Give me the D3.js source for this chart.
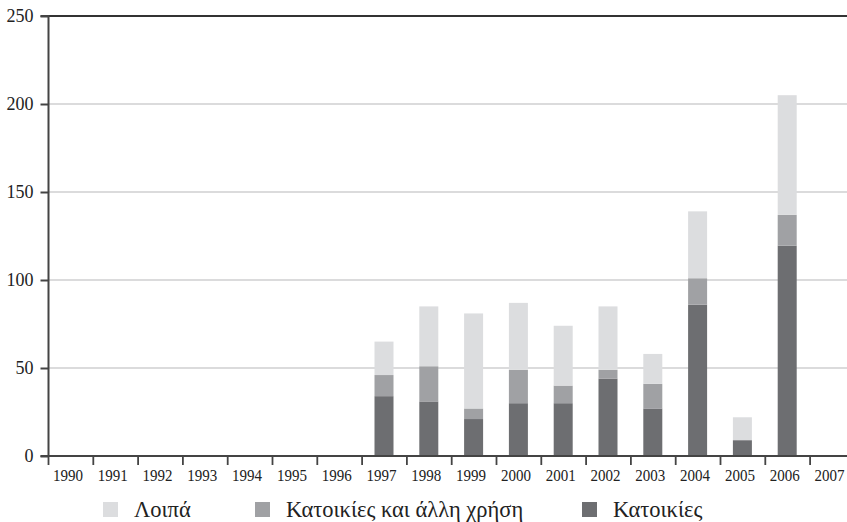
<!DOCTYPE html>
<html>
<head>
<meta charset="utf-8">
<script src="https://cdn.jsdelivr.net/npm/d3@7"></script>
<style>
  html, body { margin: 0; padding: 0; background: #fff; }
  svg { display: block; }
  text { font-family: "Liberation Serif", "DejaVu Serif", "Noto Serif", "Tinos", "Times New Roman", serif; fill: #222; }
</style>
</head>
<body>
<svg id="chart" width="847" height="522"></svg>
<script>
const years = ["1990","1991","1992","1993","1994","1995","1996","1997","1998","1999","2000","2001","2002","2003","2004","2005","2006","2007"];
// Κατοικίες
const katoikies = [0,0,0,0,0,0,0,34,31,21,30,30,44,27,86,9,119.5,0];
// Κατοικίες και άλλη χρήση
const mixed =     [0,0,0,0,0,0,0,12,20,6,19,10,5,14,15,0,17.5,0];
// Λοιπά
const loipa =     [0,0,0,0,0,0,0,19,34,54,38,34,36,17,38,13,68,0];
const yTicks = [0,50,100,150,200,250];
const seriesKeys = ["katoikies","mixed","loipa"];
const seriesNames = {katoikies: "Κατοικίες", mixed: "Κατοικίες και άλλη χρήση", loipa: "Λοιπά"};
const colors = {katoikies: "#6d6e71", mixed: "#a0a1a4", loipa: "#dcdddf"};
const legendOrder = ["loipa","mixed","katoikies"];

const table = years.map((y,i) => ({year: y, katoikies: katoikies[i], mixed: mixed[i], loipa: loipa[i]}));

const svg = d3.select("#chart");
const x0 = 48.5, bandW = 44.8;
const x = d3.scaleBand().domain(years).range([x0, x0 + bandW*years.length]).padding(0);
const y = d3.scaleLinear().domain([0,250]).range([456,16]);

// gridlines
svg.append("g").selectAll("line").data(yTicks.filter(d => d>0 && d<250)).join("line")
  .attr("x1", x0).attr("x2", 847).attr("y1", d=>y(d)).attr("y2", d=>y(d))
  .attr("stroke", "#cfcfd0").attr("stroke-width", 1.6);

// stacked bars
const stack = d3.stack().keys(seriesKeys)(table);
const barW = 19;
svg.append("g").selectAll("g").data(stack).join("g")
  .attr("fill", d => colors[d.key])
  .selectAll("rect").data(d => d).join("rect")
  .attr("x", d => x(d.data.year) + x.bandwidth()/2 - barW/2 - 0.5)
  .attr("width", barW)
  .attr("y", d => y(d[1]))
  .attr("height", d => Math.max(0, y(d[0]) - y(d[1])));

// top line at 250
svg.append("line").attr("x1", x0).attr("x2", 847).attr("y1", y(250)).attr("y2", y(250))
  .attr("stroke", "#333").attr("stroke-width", 2);

// y axis
const yAxis = svg.append("g").attr("transform", `translate(${x0},0)`)
  .call(d3.axisLeft(y).tickValues(yTicks).tickSize(8).tickPadding(7));
yAxis.attr("font-family", null);
yAxis.select(".domain").attr("stroke", "#444").attr("stroke-width", 2).attr("d", `M-8,${y(250)}H0V${y(0)}H-8`);
yAxis.selectAll(".tick line").attr("stroke", "#444").attr("stroke-width", 2);
yAxis.selectAll(".tick text").attr("font-size", 18).attr("fill", "#222");

// x axis
const xAxis = svg.append("g").attr("transform", `translate(0,${y(0)})`)
  .call(d3.axisBottom(x).tickSize(0).tickPadding(0));
xAxis.select(".domain").attr("stroke", "#444").attr("stroke-width", 2).attr("d", `M${x0},0H847`);
xAxis.selectAll(".tick text").remove();
xAxis.selectAll(".tick line").remove();
svg.append("g").selectAll("line").data(years).join("line")
  .attr("x1", d => x(d)).attr("x2", d => x(d))
  .attr("y1", y(0)).attr("y2", y(0)+9)
  .attr("stroke", "#444").attr("stroke-width", 1.8);
svg.append("g").selectAll("text").data(years).join("text")
  .attr("x", d => x(d) + x.bandwidth()/2 - 18)
  .attr("y", 481)
  .attr("font-size", 17)
  .attr("textLength", 30)
  .attr("lengthAdjust", "spacingAndGlyphs")
  .text(d => d);

// legend
const legendX = [103, 255, 582];
const lg = svg.append("g").selectAll("g").data(legendOrder).join("g")
  .attr("transform", (d,i) => `translate(${legendX[i]},502)`);
lg.append("rect").attr("width", 15).attr("height", 15).attr("fill", d => colors[d]);
lg.append("text").attr("x", 31).attr("y", 15).attr("font-size", 22.5).text(d => seriesNames[d]);
</script>
</body>
</html>
